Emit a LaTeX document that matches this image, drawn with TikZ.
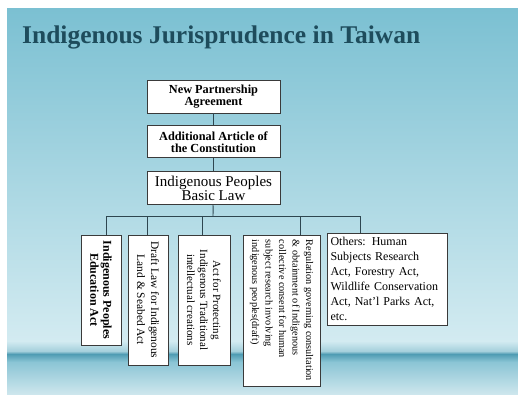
\documentclass[tikz,border=0pt]{standalone}
\usepackage{fontspec}
\setmainfont{Liberation Serif}
\usepackage{tikz}
\usetikzlibrary{positioning}
\definecolor{skyTop}{HTML}{7BC0D2}
\definecolor{skyLow}{HTML}{D3EBF1}
\definecolor{haze}{HTML}{A5D0DC}
\definecolor{seaDark}{HTML}{4F9CB3}
\definecolor{seaMid}{HTML}{8BC5D5}
\definecolor{seaLow}{HTML}{CDE6ED}
\definecolor{titleInk}{HTML}{1E4C5C}
\definecolor{boxLine}{HTML}{3A3A3A}
\definecolor{wireLine}{HTML}{2E4650}
\tikzstyle{law}=[rectangle, draw=boxLine, fill=white, line width=0.9pt, inner sep=3pt, align=center]
\tikzstyle{rotlaw}=[law, rotate=-90]
\tikzstyle{wire}=[draw=wireLine, line width=0.9pt]

\begin{document}
\begin{tikzpicture}[x=1pt, y=-1pt]
  \useasboundingbox (0,0) rectangle (518,394);
  % Fond
  \shade[top color=skyTop, bottom color=skyLow] (7,8) rectangle (518,341);
  \shade[top color=skyLow, bottom color=haze] (7,341) rectangle (518,351);
  \shade[top color=haze, bottom color=seaDark] (7,351) rectangle (518,354);
  \shade[top color=seaDark, bottom color=seaMid] (7,354) rectangle (518,362);
  \shade[top color=seaMid, bottom color=seaLow] (7,362) rectangle (518,394);

  % Titre
  \node[anchor=base west, inner sep=0pt, text=titleInk, font=\fontsize{25.5}{28}\selectfont\bfseries] (title) at (22,43) {Indigenous Jurisprudence in Taiwan};

  % Noeuds du haut
  \node[law, minimum width=133pt, minimum height=33pt, font=\fontsize{12.3}{11.5}\selectfont\bfseries] (partnership) at (213.5,96.5) {New Partnership\\Agreement};
  \node[law, below=12pt of partnership, minimum width=133pt, minimum height=32pt, font=\fontsize{12.3}{12}\selectfont\bfseries] (constitution) {Additional Article of\\the Constitution};
  \node[law, below=13pt of constitution, minimum width=133pt, minimum height=33pt, font=\fontsize{15}{12.7}\selectfont] (basicLaw) {Indigenous Peoples\\Basic Law};

  % Lois
  \node[rotlaw, minimum width=110pt, minimum height=40pt, font=\fontsize{12}{13}\selectfont\bfseries] (educationAct) at (101,290) {Indigenous Peoples\\Education Act};
  \node[rotlaw, minimum width=130pt, minimum height=40pt, font=\fontsize{11.4}{14}\selectfont] (seabedAct) at (148,300) {Draft Law for Indigenous\\Land \& Seabed Act};
  \node[rotlaw, minimum width=130pt, minimum height=52pt, font=\fontsize{11}{13}\selectfont] (creationsAct) at (204,300) {Act for Protecting\\Indigenous Traditional\\intellectual creations};
  \node[rotlaw, minimum width=151pt, minimum height=77pt, align=left, font=\fontsize{10.2}{13.5}\selectfont] (consultation) at (281.5,310.5) {Regulation governing consultation\\\& obtainment of Indigenous\\collective consent for human\\subject research involving\\indigenous peoples(draft)};
  \node[law, minimum width=120pt, minimum height=92pt, text width=113pt, align=left, font=\fontsize{12}{15}\selectfont] (others) at (387,279) {Others: Human\\Subjects Research\\Act, Forestry Act,\\Wildlife Conservation\\Act, Nat'l Parks Act,\\etc.};

  % Connexions
  \coordinate (bus) at (213,216);
  \path (educationAct.west) ++(5,0) coordinate (dropA);
  \path (seabedAct.west) ++(-1,0) coordinate (dropB);
  \path (creationsAct.west) ++(-2,0) coordinate (dropC);
  \path (consultation.west) ++(18.5,0) coordinate (dropD);
  \path (others.north) ++(-27,0) coordinate (dropE);
  \draw[wire] (partnership) -- (constitution);
  \draw[wire] (constitution) -- (basicLaw);
  \draw[wire] (basicLaw) -- (bus);
  \draw[wire] (dropA |- bus) -- (dropE |- bus);
  \foreach \d in {dropA, dropB, dropC, dropD, dropE}
    \draw[wire] (\d |- bus) -- (\d);
\end{tikzpicture}
\end{document}
